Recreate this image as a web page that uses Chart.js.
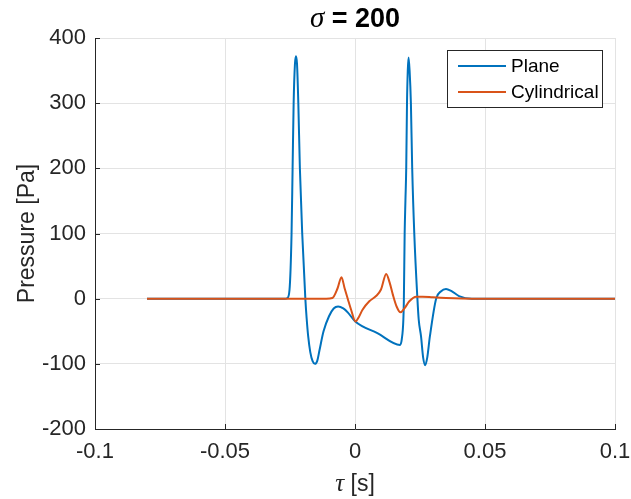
<!DOCTYPE html>
<html>
<head>
<meta charset="utf-8">
<script src="https://cdn.jsdelivr.net/npm/chart.js@4/dist/chart.umd.min.js"></script>
<style>
  html, body { margin: 0; padding: 0; background: #ffffff; }
  canvas { display: block; }
</style>
</head>
<body>
<canvas id="c" width="631" height="499"></canvas>
<script>
// Pressure signatures for sigma = 200
const planeTau = [-0.08, -0.027, -0.026, -0.0252, -0.0244, -0.024, -0.0236, -0.0231, -0.0227, -0.0223, -0.0218, -0.0212, -0.0203, -0.0191, -0.0186, -0.018, -0.0172, -0.0163, -0.0154, -0.0145, -0.0137, -0.0121, -0.01, -0.0082, -0.0065, -0.0045, -0.0028, 0.0001, 0.0086, 0.0173, 0.018, 0.0186, 0.0188, 0.0191, 0.0194, 0.0197, 0.02, 0.0203, 0.0206, 0.021, 0.0215, 0.022, 0.0228, 0.024, 0.0245, 0.0254, 0.0262, 0.027, 0.0278, 0.0288, 0.0312, 0.033, 0.035, 0.037, 0.04, 0.045, 0.1];
const planeP   = [0, 0, 1, 13, 100, 200, 300, 360, 372, 360, 300, 200, 100, 0, -30, -58, -82, -96, -100, -95, -80, -50, -27, -15, -12, -15, -21, -35, -53, -71, -62, -32, 0, 100, 151, 200, 300, 350, 370, 350, 300, 200, 100, 0, -32, -58, -90, -102, -90, -58, 0, 11, 15, 12, 4, 0, 0];

const cylTau = [-0.08, -0.011, -0.0087, -0.0067, -0.0052, -0.004, -0.0028, -0.0015, 0.0002, 0.0015, 0.0029, 0.0055, 0.0081, 0.01, 0.012, 0.0133, 0.0145, 0.016, 0.0175, 0.019, 0.0209, 0.0235, 0.026, 0.03, 0.035, 0.045, 0.1];
const cylP   = [0, 0, 1, 16, 33, 16, 0, -17, -35, -28, -17, -4, 4, 14, 38, 25, 7, -12, -21, -15, -4, 3, 3, 2, 1, 0, 0];

const xTickValues = [-0.1, -0.05, 0, 0.05, 0.1];
const xTickLabels = ['-0.1', '-0.05', '0', '0.05', '0.1'];
const yTickValues = [-200, -100, 0, 100, 200, 300, 400];
const yTickLabels = ['-200', '-100', '0', '100', '200', '300', '400'];

const seriesNames = ['Plane', 'Cylindrical'];
const seriesColors = ['#0072BD', '#D95319'];

const toPoints = (xs, ys) => xs.map((x, i) => ({ x: x, y: ys[i] }));

const AXIS = '#262626';
const GRID = '#e3e3e3';
const SANS = '"Liberation Sans", Arial, Helvetica, sans-serif';
const SERIF = '"Liberation Serif", "DejaVu Serif", serif';

// inward tick marks, titles, legend
const decor = {
  id: 'decor',
  afterDatasetsDraw(chart) {
    const ctx = chart.ctx;
    const a = chart.chartArea;
    const xs = chart.scales.x, ys = chart.scales.y;
    ctx.save();
    ctx.strokeStyle = AXIS;
    ctx.lineWidth = 1;
    ctx.beginPath();
    xTickValues.forEach(v => {
      const px = Math.round(xs.getPixelForValue(v)) + 0.5;
      ctx.moveTo(px, a.bottom);
      ctx.lineTo(px, a.bottom - 5);
    });
    yTickValues.forEach(v => {
      const py = Math.round(ys.getPixelForValue(v)) + 0.5;
      ctx.moveTo(a.left, py);
      ctx.lineTo(a.left + 5, py);
    });
    ctx.stroke();
    ctx.restore();
  },
  afterDraw(chart) {
    const ctx = chart.ctx;
    const a = chart.chartArea;
    const cx = (a.left + a.right) / 2;
    ctx.save();
    ctx.fillStyle = '#000000';
    ctx.textBaseline = 'alphabetic';
    ctx.textAlign = 'left';

    // title: sigma = 200
    const tA = '\u03C3', tB = ' = 200';
    ctx.font = 'italic 29px ' + SERIF;
    const wA = ctx.measureText(tA).width;
    ctx.font = 'bold 27px ' + SANS;
    const wB = ctx.measureText(tB).width;
    let x0 = cx - (wA + wB) / 2;
    ctx.font = 'italic 29px ' + SERIF;
    ctx.fillText(tA, x0, 27);
    ctx.font = 'bold 27px ' + SANS;
    ctx.fillText(tB, x0 + wA, 27);

    // x-axis title: tau [s]
    ctx.fillStyle = AXIS;
    const xA = '\u03C4', xB = ' [s]';
    ctx.font = 'italic 25px ' + SERIF;
    const wxA = ctx.measureText(xA).width;
    ctx.font = '23px ' + SANS;
    const wxB = ctx.measureText(xB).width;
    x0 = cx - (wxA + wxB) / 2;
    ctx.font = 'italic 25px ' + SERIF;
    ctx.fillText(xA, x0, 491);
    ctx.font = '23px ' + SANS;
    ctx.fillText(xB, x0 + wxA, 491);

    // y-axis title
    ctx.save();
    ctx.translate(28, (a.top + a.bottom) / 2);
    ctx.rotate(-Math.PI / 2);
    ctx.textAlign = 'center';
    ctx.textBaseline = 'middle';
    ctx.font = '23px ' + SANS;
    ctx.fillText('Pressure [Pa]', 0, 0);
    ctx.restore();

    // legend box
    const bx = 447.5, by = 50.5, bw = 155, bh = 57;
    ctx.fillStyle = '#ffffff';
    ctx.fillRect(bx, by, bw, bh);
    ctx.strokeStyle = AXIS;
    ctx.lineWidth = 1;
    ctx.strokeRect(bx, by, bw, bh);
    ctx.font = '19px ' + SANS;
    ctx.textBaseline = 'middle';
    ctx.textAlign = 'left';
    chart.data.datasets.forEach((ds, i) => {
      const ry = 66 + i * 26;
      ctx.strokeStyle = ds.borderColor;
      ctx.lineWidth = 2;
      ctx.beginPath();
      ctx.moveTo(458, ry);
      ctx.lineTo(506, ry);
      ctx.stroke();
      ctx.fillStyle = '#000000';
      ctx.fillText(ds.label, 511, ry + 1);
    });
    ctx.restore();
  }
};

new Chart(document.getElementById('c'), {
  type: 'line',
  data: {
    datasets: [
      {
        label: seriesNames[0],
        data: toPoints(planeTau, planeP),
        borderColor: seriesColors[0],
        backgroundColor: seriesColors[0],
        borderWidth: 2,
        pointRadius: 0,
        fill: false,
        cubicInterpolationMode: 'monotone',
        order: 1
      },
      {
        label: seriesNames[1],
        data: toPoints(cylTau, cylP),
        borderColor: seriesColors[1],
        backgroundColor: seriesColors[1],
        borderWidth: 2,
        pointRadius: 0,
        fill: false,
        cubicInterpolationMode: 'monotone',
        order: 0
      }
    ]
  },
  options: {
    responsive: false,
    animation: false,
    devicePixelRatio: 1,
    layout: { padding: { top: 38, right: 0, left: 0, bottom: 0 } },
    plugins: {
      legend: { display: false },
      title: { display: false },
      tooltip: { enabled: false }
    },
    scales: {
      x: {
        type: 'linear',
        min: -0.1,
        max: 0.1,
        afterBuildTicks: s => { s.ticks = xTickValues.map(v => ({ value: v })); },
        afterFit: s => { s.height = 70; s.paddingLeft = 0; s.paddingRight = 16; },
        ticks: {
          callback: (v, i) => xTickLabels[i],
          color: AXIS,
          font: { family: SANS, size: 22 },
          padding: 10,
          maxRotation: 0,
          autoSkip: false
        },
        grid: { color: GRID, lineWidth: 1, drawTicks: false },
        border: { color: AXIS, width: 1 }
      },
      y: {
        type: 'linear',
        min: -200,
        max: 400,
        afterBuildTicks: s => { s.ticks = yTickValues.map(v => ({ value: v })); },
        afterFit: s => { s.width = 95; s.paddingTop = 0; s.paddingBottom = 0; },
        ticks: {
          callback: (v, i) => yTickLabels[i],
          color: AXIS,
          font: { family: SANS, size: 22 },
          padding: 9,
          autoSkip: false
        },
        grid: { color: GRID, lineWidth: 1, drawTicks: false },
        border: { color: AXIS, width: 1 }
      }
    }
  },
  plugins: [decor]
});
</script>
</body>
</html>
